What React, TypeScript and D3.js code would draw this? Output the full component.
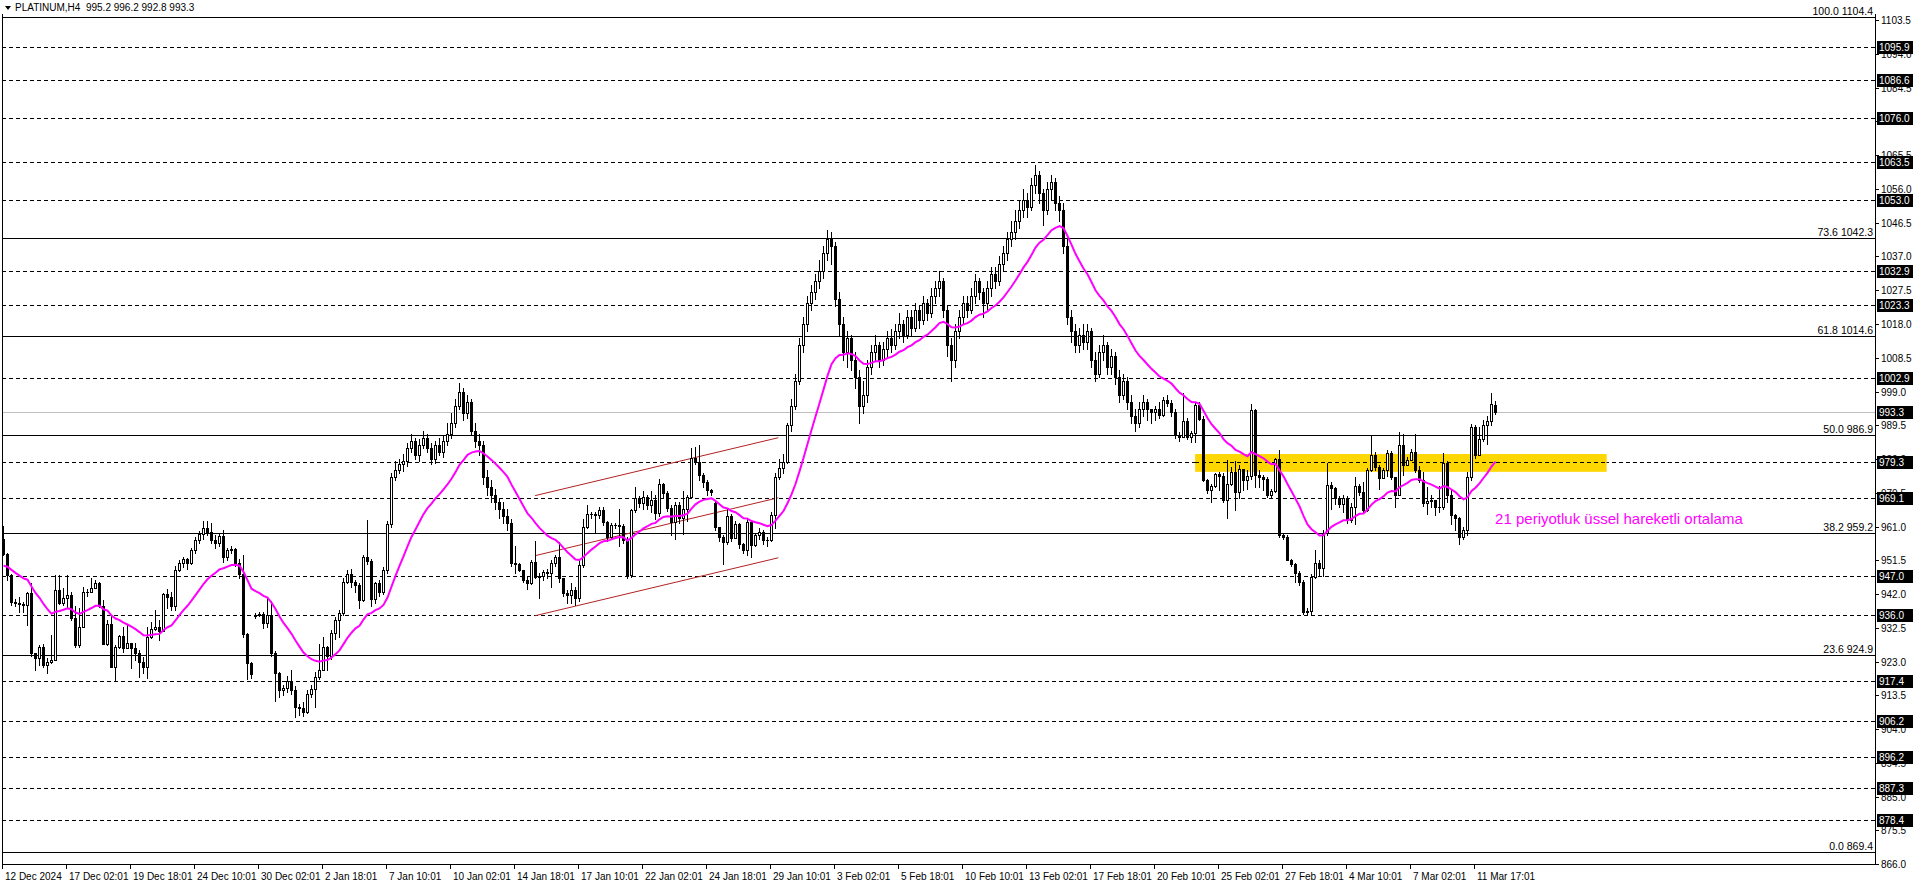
import React, { useEffect } from 'react';
import * as d3 from 'd3';

// ---------------- DATA ----------------
const firstOpen = 957.5;
const lastOpen = 995.2;
const gapOpens: Record<number, number> = { 63: 935.8, 178: 967.5 };

const closes = [
953.3,947.4,939.8,939.6,939.3,938.8,942.2,925.3,923.9,927.2,922.0,922.8,923.5,943.1,939.4,941.0,941.6,935.2,927.6,932.8,
942.7,942.5,943.8,945.0,938.6,928.0,933.7,921.6,927.0,930.2,926.9,928.1,926.7,925.3,922.9,921.5,930.0,932.1,932.6,931.5,
941.9,941.3,938.5,948.8,950.6,951.8,950.8,954.4,957.2,959.0,960.5,959.5,957.2,956.5,958.2,952.5,954.3,954.8,950.8,947.5,
930.8,922.5,919.5,936.2,936.5,933.8,936.0,925.5,919.7,915.0,915.5,917.5,915.0,910.3,909.8,908.9,914.0,915.3,918.7,920.5,
927.0,924.6,931.0,934.7,936.6,945.5,947.5,945.5,944.5,940.3,952.5,951.2,940.5,945.2,942.7,948.7,961.8,975.0,977.0,978.5,
979.5,983.0,985.0,981.0,984.0,986.0,983.0,980.0,984.0,982.0,985.0,987.0,990.0,995.0,999.0,993.0,996.0,988.0,985.0,984.0,
975.0,972.0,970.0,968.0,966.0,964.0,962.0,950.6,950.5,948.8,945.9,945.0,951.0,946.9,947.2,948.2,947.8,950.6,952.5,946.4,
942.2,941.7,943.1,940.8,950.2,960.9,964.4,964.5,964.2,965.6,962.3,958.1,961.4,961.5,961.2,957.2,947.3,965.6,968.9,967.5,
969.4,967.0,968.6,964.7,972.9,970.3,966.1,962.3,967.0,963.3,966.0,969.4,980.2,979.2,975.5,973.6,971.3,970.8,960.9,958.1,
956.7,963.9,957.7,961.7,956.2,954.4,962.3,955.8,958.6,959.5,957.2,957.2,964.2,975.0,977.4,979.2,989.5,995.0,1002.0,1012.0,
1018.0,1024.0,1027.0,1030.0,1033.0,1038.0,1042.0,1040.0,1025.0,1018.0,1010.0,1014.0,1008.0,1003.0,995.0,998.0,1006.0,1010.0,1012.0,1008.0,
1011.0,1014.0,1012.0,1016.0,1018.0,1015.0,1020.0,1017.0,1022.0,1019.0,1024.0,1021.0,1026.0,1028.0,1030.0,1022.0,1012.0,1008.0,1016.0,1020.0,
1024.0,1022.0,1026.0,1030.0,1027.0,1024.0,1028.0,1032.0,1030.0,1035.0,1038.0,1042.0,1044.0,1047.0,1050.0,1053.0,1051.0,1057.0,1060.0,1055.0,
1050.0,1056.0,1058.0,1052.0,1050.0,1040.0,1020.0,1016.0,1012.0,1015.0,1013.0,1016.0,1008.0,1004.0,1010.0,1012.0,1006.0,1009.0,1003.0,998.0,
1002.0,996.0,992.0,990.0,994.0,996.0,994.0,993.3,994.0,992.4,996.6,995.7,993.3,986.8,986.3,990.8,986.3,987.2,995.2,991.4,
974.0,971.2,972.3,975.8,975.2,968.5,973.1,976.4,970.8,977.2,974.2,975.2,993.8,975.5,974.8,974.3,969.9,971.0,979.9,958.6,
958.1,951.6,950.4,947.8,945.5,937.0,937.2,946.9,950.8,949.3,959.1,972.7,971.8,968.9,967.3,968.9,962.8,966.6,972.4,970.8,
965.6,976.9,981.1,977.8,974.6,976.9,981.6,975.0,969.9,984.0,978.3,979.7,982.1,976.9,974.1,967.5,968.3,968.6,966.6,966.4,
979.0,969.9,964.2,963.3,958.1,960.0,974.8,988.9,981.1,985.5,989.6,990.6,995.5,993.3
];

const highs = [
961.1,953.5,947.5,940.5,941.2,939.8,942.5,945.0,925.3,927.7,928.0,923.9,930.5,947.3,947.3,943.6,947.3,942.6,938.5,938.0,
944.0,943.5,946.4,945.9,945.4,940.3,934.7,936.1,927.6,930.5,932.8,933.7,928.1,928.3,926.2,924.4,932.8,934.0,937.5,934.7,
942.2,943.5,942.5,950.0,951.5,952.5,952.2,955.0,958.0,959.8,962.5,962.5,962.0,958.5,959.0,960.0,955.0,955.5,955.0,952.0,
953.0,931.0,923.0,936.8,937.0,937.0,941.0,940.0,926.0,920.0,916.5,919.0,920.5,916.0,911.0,911.5,915.0,916.5,920.0,928.0,
930.0,927.5,932.0,935.5,937.5,946.5,948.7,949.0,946.0,945.0,953.0,962.8,952.0,945.5,946.0,949.5,962.5,976.0,979.5,980.0,
981.5,984.5,987.0,986.0,985.5,988.0,987.0,984.5,985.0,986.0,986.5,990.0,993.0,997.0,1001.5,1000.0,998.0,997.0,990.0,987.0,
985.0,977.0,974.0,971.5,969.0,968.0,966.0,963.0,955.5,950.6,948.5,947.0,951.5,956.9,948.0,948.7,949.0,951.5,953.0,956.7,
946.5,943.0,945.0,944.0,952.0,963.0,967.0,965.0,965.2,966.5,966.5,962.5,962.0,962.0,966.0,961.8,958.0,966.0,972.0,969.5,
971.0,969.8,971.0,970.0,974.5,973.3,971.0,967.0,967.8,968.0,971.0,970.0,983.0,983.5,984.0,976.0,974.0,971.5,968.0,961.0,
958.5,966.0,964.5,962.5,962.0,956.5,963.5,962.8,959.0,960.5,960.0,958.0,965.0,976.0,980.0,981.5,990.0,997.0,1004.0,1014.0,
1020.0,1026.0,1029.0,1032.0,1036.0,1040.0,1044.5,1044.0,1041.0,1027.0,1020.0,1016.0,1015.0,1010.0,1005.0,1002.0,1008.0,1012.0,1015.0,1013.0,
1013.0,1016.0,1016.5,1018.0,1021.0,1019.0,1022.0,1022.0,1024.0,1023.0,1026.0,1025.0,1028.0,1030.0,1033.0,1031.0,1023.0,1014.0,1018.0,1022.0,
1026.0,1026.0,1028.0,1032.0,1031.0,1028.0,1030.0,1034.0,1034.0,1037.0,1040.0,1044.0,1047.0,1050.0,1053.0,1056.0,1055.0,1059.0,1062.8,1061.0,
1056.0,1058.0,1060.0,1059.0,1054.0,1052.0,1042.0,1022.0,1018.0,1017.0,1018.0,1018.0,1017.0,1010.0,1012.0,1015.0,1013.0,1011.0,1010.0,1005.0,
1004.0,1003.0,998.0,994.0,996.0,998.0,997.0,994.0,995.0,996.0,997.5,998.0,996.6,994.0,987.5,998.5,991.5,988.0,995.8,996.0,
992.0,974.5,973.0,976.0,976.3,976.0,979.6,977.8,979.5,978.3,977.0,976.9,995.6,994.0,976.9,975.5,974.8,971.6,980.4,982.5,
958.9,958.6,952.0,950.6,948.5,946.0,938.0,947.5,954.5,951.5,960.0,978.8,973.5,972.0,969.5,970.0,969.5,967.5,975.0,973.0,
973.5,977.5,986.8,982.0,978.2,977.5,982.5,982.2,975.0,987.6,987.0,980.5,982.8,987.0,978.0,976.4,972.0,970.0,968.0,972.5,
981.8,979.5,971.5,964.5,963.7,961.0,976.4,989.8,989.6,989.1,991.0,992.0,998.5,996.2
];

const lows = [
953.0,946.0,938.9,938.5,937.0,937.0,933.3,924.5,920.6,922.0,921.5,919.9,922.5,923.5,939.2,938.9,938.4,934.8,927.0,927.2,
932.6,941.5,942.5,943.6,938.4,928.0,927.6,921.4,917.8,926.7,925.8,926.7,921.1,923.4,918.7,919.7,918.3,929.7,931.9,929.1,
932.3,938.0,937.5,937.5,948.5,949.5,949.0,950.5,953.5,956.5,957.5,958.5,956.5,955.0,955.5,951.0,951.5,953.5,950.0,946.5,
930.0,918.0,918.5,935.3,935.8,932.5,932.8,924.5,912.0,913.0,913.5,914.5,914.0,907.5,908.0,907.7,908.5,913.0,910.3,918.0,
920.5,920.5,923.8,929.3,930.0,936.0,945.0,944.0,942.5,938.0,940.0,950.5,938.5,939.5,941.5,942.0,948.0,961.0,974.0,976.0,
976.5,978.0,982.0,980.0,979.5,983.0,982.0,978.5,979.0,981.0,980.5,984.0,986.0,989.0,994.0,991.0,991.5,987.0,983.5,981.0,
973.0,970.0,968.0,966.0,963.5,962.0,960.0,950.0,948.0,948.6,945.5,943.5,944.8,946.5,941.0,946.0,946.5,944.0,950.0,945.5,
941.5,939.6,939.4,938.8,940.0,949.5,960.5,963.5,959.2,963.5,961.5,957.0,957.5,960.5,955.5,956.5,946.5,946.8,965.0,966.5,
966.0,966.0,965.0,963.0,964.0,969.0,965.5,958.5,957.5,962.0,959.0,962.5,969.0,978.5,974.0,972.0,970.0,970.0,960.0,957.0,
950.5,956.0,957.0,960.0,955.0,953.5,953.0,952.5,955.5,957.5,956.0,955.6,957.0,960.5,974.5,976.0,978.8,988.0,994.0,1001.0,
1010.0,1016.0,1022.0,1025.0,1028.0,1031.0,1036.0,1035.0,1023.0,1015.0,1008.0,1006.0,1005.0,1000.0,990.0,993.0,996.0,1004.0,1008.0,1006.0,
1006.5,1009.0,1010.0,1011.0,1014.0,1013.0,1014.0,1015.0,1016.0,1017.0,1018.0,1019.0,1020.0,1024.0,1026.0,1020.0,1009.0,1002.0,1006.0,1014.0,
1018.0,1020.0,1021.0,1024.0,1025.0,1020.0,1022.0,1026.0,1028.0,1029.0,1033.0,1036.0,1040.0,1042.0,1045.0,1048.0,1048.0,1050.0,1055.0,1052.0,
1046.0,1049.0,1053.0,1050.0,1047.0,1038.0,1018.0,1013.0,1010.0,1010.0,1011.0,1011.0,1006.0,1002.0,1003.0,1008.0,1004.0,1004.0,1001.0,996.0,
997.0,994.0,990.0,988.0,989.0,992.0,991.0,990.0,991.0,991.5,992.0,995.0,992.0,985.8,985.0,986.2,985.5,984.9,984.8,991.0,
973.8,970.3,967.8,972.0,971.2,968.0,963.3,972.6,965.6,968.9,971.2,971.7,974.4,972.2,972.2,971.3,969.3,969.3,970.8,958.1,
957.5,951.5,949.8,945.5,944.5,936.5,936.4,936.4,946.5,947.0,947.2,958.5,966.0,967.4,966.5,965.0,962.0,962.4,961.6,970.0,
965.0,965.3,976.6,977.0,971.5,974.6,975.3,974.5,966.4,973.0,975.5,978.5,979.8,976.3,973.5,966.8,964.4,966.5,964.3,965.2,
966.0,968.0,961.8,960.0,956.0,957.5,958.5,974.0,980.2,981.5,985.0,984.2,989.5,992.8
];

const timeLabels = [
  '12 Dec 2024', '17 Dec 02:01', '19 Dec 18:01', '24 Dec 10:01', '30 Dec 02:01', '2 Jan 18:01',
  '7 Jan 10:01', '10 Jan 02:01', '14 Jan 18:01', '17 Jan 10:01', '22 Jan 02:01', '24 Jan 18:01',
  '29 Jan 10:01', '3 Feb 02:01', '5 Feb 18:01', '10 Feb 10:01', '13 Feb 02:01', '17 Feb 18:01',
  '20 Feb 10:01', '25 Feb 02:01', '27 Feb 18:01', '4 Mar 10:01', '7 Mar 02:01', '11 Mar 17:01'
];
const barsPerTimeLabel = 16;

const axisTicks = [
  1103.5, 1094.0, 1084.5, 1075.0, 1065.5, 1056.0, 1046.5, 1037.0, 1027.5, 1018.0, 1008.5, 999.0, 989.5,
  980.0, 970.5, 961.0, 951.5, 942.0, 932.5, 923.0, 913.5, 904.0, 894.5, 885.0, 875.5, 866.0
];

const fibPercents = [100.0, 73.6, 61.8, 50.0, 38.2, 23.6, 0.0];
const fibPrices = [1104.4, 1042.3, 1014.6, 986.9, 959.2, 924.9, 869.4];

const dashedLevels = [
  1095.9, 1086.6, 1076.0, 1063.5, 1053.0, 1032.9, 1023.3, 1002.9, 979.3, 969.1, 947.0, 936.0,
  917.4, 906.2, 896.2, 887.3, 878.4
];

const bidPrice = 993.3;
const emaPeriod = 21;
const emaStart = 949.6;

const zoneBars = [297.9, 400.8];
const zonePrices = [976.4, 981.4];

const channelBars = [132.9, 193.7];
const channelUpper = [969.7, 986.0];
const channelMiddle = [952.8, 969.1];
const channelLower = [935.9, 952.2];

const noteText = '21 periyotluk üssel hareketli ortalama';
const noteBar = 372.9;
const notePrice = 961.7;

const headerText = 'PLATINUM,H4  995.2 996.2 992.8 993.3';

// ---------------- LAYOUT ----------------
const W = 1916;
const H = 888;
const plotLeft = 2;
const plotRight = 1875;
const plotTop = 14;
const plotBottom = 864;
const FONT = '"Liberation Sans", Arial, sans-serif';

export default function App() {
  useEffect(() => {
    document.body.style.margin = '0';
    document.body.style.overflow = 'hidden';
  }, []);

  const y = d3.scaleLinear().domain([869.4, 1104.4]).range([852, 17]);
  const x = d3.scaleLinear().domain([0, 1]).range([3.5, 7.5]);

  const opens = closes.map((c, i) => {
    if (i === 0) return firstOpen;
    if (i === closes.length - 1) return lastOpen;
    if (gapOpens[i] !== undefined) return gapOpens[i];
    return closes[i - 1];
  });

  // EMA(21) of the closes
  const alpha = 2 / (emaPeriod + 1);
  const ema: number[] = [];
  let prev = emaStart;
  closes.forEach((c) => {
    prev = prev + alpha * (c - prev);
    ema.push(prev);
  });
  const emaLine = d3.line<number>().x((_, i) => x(i)).y((d) => y(d)).curve(d3.curveLinear);

  const candles = closes.map((c, i) => {
    const o = opens[i];
    const h = highs[i];
    const l = lows[i];
    const cx = x(i);
    const yH = Math.round(y(h));
    const yL = Math.round(y(l));
    const yO = Math.round(y(o));
    const yC = Math.round(y(c));
    const top = Math.min(yO, yC);
    const bh = Math.abs(yO - yC) + 1;
    const bull = c >= o;
    return (
      <g key={i}>
        <rect x={cx - 0.5} y={yH} width={1} height={Math.max(1, yL - yH + 1)} fill="#000" />
        <rect x={cx - 1.5} y={top} width={3} height={bh} fill="#000" />
        {bull && bh > 2 && <rect x={cx - 0.5} y={top + 1} width={1} height={bh - 2} fill="#fff" />}
      </g>
    );
  });

  const chLine = (p: number[], key: string) => (
    <line key={key} x1={x(channelBars[0])} y1={y(p[0])} x2={x(channelBars[1])} y2={y(p[1])}
      stroke="#B22222" strokeWidth={1} />
  );

  return (
    <svg width={W} height={H} viewBox={`0 0 ${W} ${H}`}
      style={{ position: 'absolute', left: 0, top: 0, display: 'block', background: '#fff' }}
      fontFamily={FONT}>
      <rect x={0} y={0} width={W} height={H} fill="#fff" />
      <defs>
        <clipPath id="plot">
          <rect x={plotLeft + 1} y={0} width={plotRight - plotLeft - 1} height={plotBottom} />
        </clipPath>
      </defs>

      {/* horizontal levels */}
      <g shapeRendering="crispEdges">
        {dashedLevels.map((p) => (
          <line key={'d' + p} x1={plotLeft} x2={plotRight} y1={Math.round(y(p)) + 0.5} y2={Math.round(y(p)) + 0.5}
            stroke="#000" strokeWidth={1} strokeDasharray="4,3" />
        ))}
        {fibPrices.map((p) => (
          <line key={'f' + p} x1={plotLeft} x2={plotRight} y1={Math.round(y(p)) + 0.5} y2={Math.round(y(p)) + 0.5}
            stroke="#000" strokeWidth={1} />
        ))}
        <line x1={plotLeft} x2={plotRight} y1={Math.round(y(bidPrice)) + 0.5} y2={Math.round(y(bidPrice)) + 0.5}
          stroke="#C0C0C0" strokeWidth={1} />
      </g>

      {/* zone */}
      <rect x={x(zoneBars[0])} y={y(zonePrices[1])} width={x(zoneBars[1]) - x(zoneBars[0])}
        height={y(zonePrices[0]) - y(zonePrices[1])} fill="#FFD700" />
      <line x1={x(zoneBars[0])} x2={x(zoneBars[1])} y1={Math.round(y(979.3)) + 0.5} y2={Math.round(y(979.3)) + 0.5}
        stroke="#000" strokeWidth={1} strokeDasharray="4,3" shapeRendering="crispEdges" />

      <g clipPath="url(#plot)">
        {chLine(channelUpper, 'cu')}
        {chLine(channelMiddle, 'cm')}
        {chLine(channelLower, 'cl')}

        <g shapeRendering="crispEdges">{candles}</g>

        <path d={emaLine(ema) || ''} fill="none" stroke="#FF00FF" strokeWidth={2} />
      </g>

      {/* fib labels */}
      {fibPrices.map((p, i) => (
        <text key={'fl' + p} x={plotRight - 2} y={Math.round(y(p)) - 2} textAnchor="end" fontSize={10.5} fill="#000">
          {fibPercents[i].toFixed(1)} {p.toFixed(1)}
        </text>
      ))}

      {/* note */}
      <text x={x(noteBar)} y={y(notePrice)} fontSize={15} fill="#FF00FF">
        {noteText}
      </text>

      {/* frame */}
      <g shapeRendering="crispEdges">
        <line x1={plotLeft + 0.5} x2={plotLeft + 0.5} y1={plotTop} y2={plotBottom} stroke="#000" />
        <line x1={plotRight + 0.5} x2={plotRight + 0.5} y1={plotTop} y2={plotBottom + 1} stroke="#000" />
        <line x1={plotLeft} x2={plotRight + 1} y1={plotBottom + 0.5} y2={plotBottom + 0.5} stroke="#000" />
      </g>

      {/* price axis */}
      {axisTicks.map((t) => (
        <g key={'t' + t}>
          <line x1={plotRight + 1} x2={plotRight + 4} y1={Math.round(y(t)) + 0.5} y2={Math.round(y(t)) + 0.5}
            stroke="#000" shapeRendering="crispEdges" />
          <text x={plotRight + 6} y={Math.round(y(t)) + 4} fontSize={10} fill="#000">{t.toFixed(1)}</text>
        </g>
      ))}
      {[...dashedLevels, bidPrice].map((p) => (
        <g key={'b' + p}>
          <rect x={plotRight + 2} y={Math.round(y(p)) - 6} width={36} height={13} fill="#000" />
          <text x={plotRight + 4} y={Math.round(y(p)) + 4} fontSize={10} fill="#fff">{p.toFixed(1)}</text>
        </g>
      ))}

      {/* time axis */}
      {timeLabels.map((s, k) => {
        const tx = Math.round(x(k * barsPerTimeLabel) - 1.5);
        return (
          <g key={'tl' + k}>
            <line x1={tx + 0.5} x2={tx + 0.5} y1={plotBottom + 1} y2={plotBottom + 5} stroke="#000" shapeRendering="crispEdges" />
            <text x={tx + 3} y={plotBottom + 16} fontSize={10} fill="#000">{s}</text>
          </g>
        );
      })}

      {/* header */}
      <path d="M5,6 L11,6 L8,10 Z" fill="#000" />
      <text x={15} y={11} fontSize={10} fill="#000" style={{ whiteSpace: 'pre' }}>{headerText}</text>
    </svg>
  );
}
